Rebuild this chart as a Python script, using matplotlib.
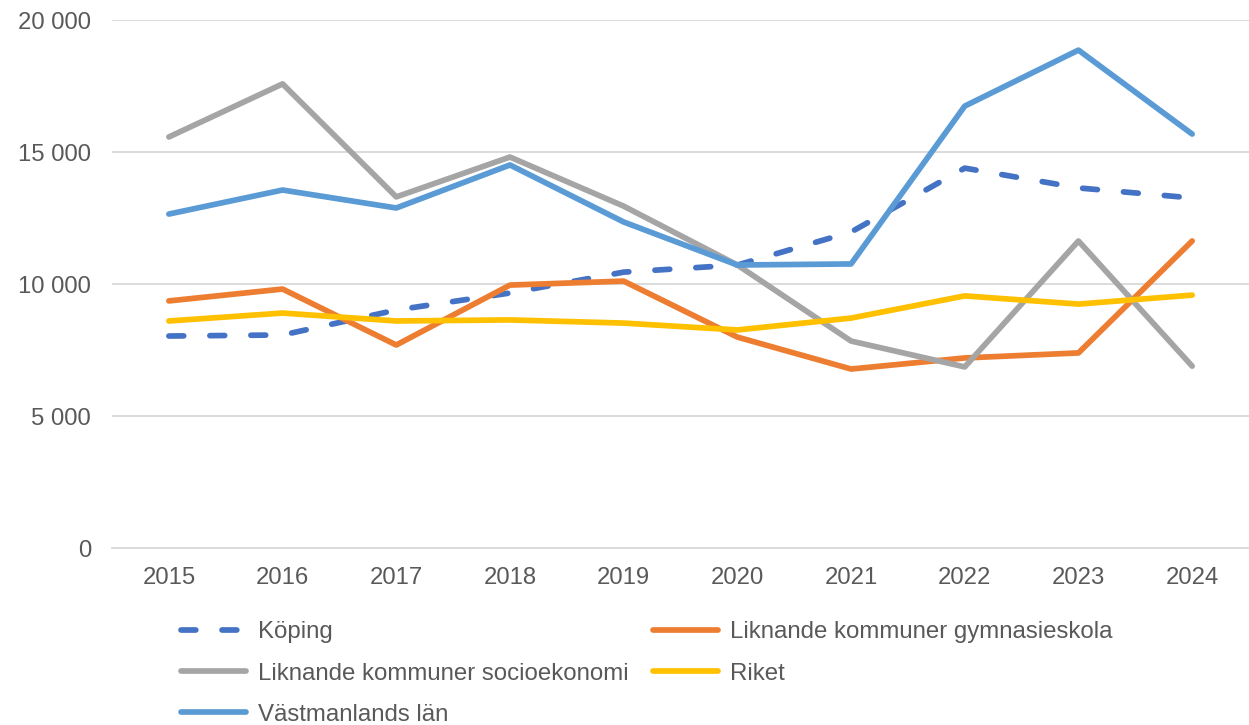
import matplotlib
matplotlib.use("Agg")
import matplotlib.pyplot as plt
from matplotlib.ticker import FuncFormatter

years = ["2015", "2016", "2017", "2018", "2019", "2020", "2021", "2022", "2023", "2024"]
koping = [8030, 8070, 9015, 9660, 10450, 10720, 11970, 14390, 13640, 13260]
lik_gymn = [9360, 9810, 7690, 9960, 10110, 7990, 6780, 7200, 7390, 11630]
lik_socio = [15570, 17580, 13300, 14810, 12950, 10720, 7840, 6860, 11630, 6890]
riket = [8600, 8900, 8600, 8640, 8520, 8260, 8710, 9550, 9240, 9580]
vastmanland = [12650, 13560, 12880, 14510, 12350, 10720, 10760, 16740, 18860, 15680]
yticks = [0, 5000, 10000, 15000, 20000]

plt.rcParams['font.family'] = ['Liberation Sans', 'DejaVu Sans']

fig = plt.figure(figsize=(12.49, 7.25), dpi=100)
ax = fig.add_axes([0.0897, 0.2441, 0.9103, 0.7283])

x = list(range(len(years)))
lw = 4.1
l_kop, = ax.plot(x, koping, color="#4472C4", lw=lw, dash_capstyle='round', solid_capstyle='round', label="Köping", zorder=3)
l_kop.set_dashes([2.6, 4.6])
l_gym, = ax.plot(x, lik_gymn, color="#ED7D31", lw=lw, solid_capstyle='round', label="Liknande kommuner gymnasieskola", zorder=3)
l_soc, = ax.plot(x, lik_socio, color="#A5A5A5", lw=lw, solid_capstyle='round', label="Liknande kommuner socioekonomi", zorder=3)
l_rik, = ax.plot(x, riket, color="#FFC000", lw=lw, solid_capstyle='round', label="Riket", zorder=3)
l_vas, = ax.plot(x, vastmanland, color="#5B9BD5", lw=lw, solid_capstyle='round', label="Västmanlands län", zorder=3)

ax.set_xlim(-0.5, len(years) - 0.5)
ax.set_ylim(0, 20000)
ax.set_yticks(yticks)
ax.yaxis.set_major_formatter(FuncFormatter(lambda v, p: f"{int(v):,}".replace(",", " ")))
ax.set_xticks(x)
ax.set_xticklabels(years)
ax.grid(axis='y', color="#D9D9D9", lw=1.3, zorder=0)
for s in ['top', 'right', 'left']:
    ax.spines[s].set_visible(False)
ax.spines['bottom'].set_color("#D9D9D9")
ax.spines['bottom'].set_linewidth(1.3)
ax.tick_params(axis='both', length=0, labelsize=17.2, labelcolor="#595959")
ax.tick_params(axis='y', pad=15)
ax.tick_params(axis='x', pad=14)

handles = [l_kop, l_soc, l_vas, l_gym, l_rik]
leg = fig.legend(handles=handles, labels=[h.get_label() for h in handles], ncol=2,
                 loc='upper left', bbox_to_anchor=(0.145, 0.143), frameon=False,
                 fontsize=17.3, handlelength=2.7, handletextpad=0.5, columnspacing=1.0,
                 labelspacing=0.8, borderaxespad=0, borderpad=0)
for t in leg.get_texts():
    t.set_color("#595959")

fig.savefig("out.png", dpi=100)
